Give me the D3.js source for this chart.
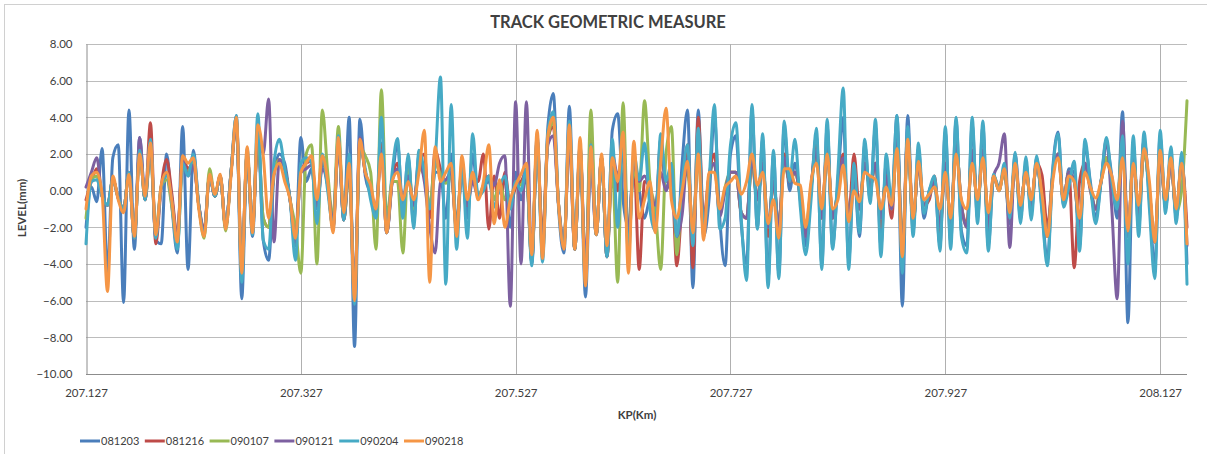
<!DOCTYPE html>
<html>
<head>
<meta charset="utf-8">
<script src="https://cdn.jsdelivr.net/npm/d3@7"></script>
<style>
  body { margin: 0; background: #fff; }
  svg { display: block; }
  text { font-family: Lato, "Open Sans", "Liberation Sans", sans-serif; fill: #404040; }
</style>
</head>
<body>
<svg id="chart" width="1207" height="454"></svg>
<script>
// Track level survey: one reading every 5 m from KP 207.127
const kpStart = 207.127;
const kpStep = 0.005;
const xTickValues = [207.127, 207.327, 207.527, 207.727, 207.927, 208.127];
const yTickValues = [-10, -8, -6, -4, -2, 0, 2, 4, 6, 8];
const seriesNames = ["081203", "081216", "090107", "090121", "090204", "090218"];
const seriesColors = ["#4A7EBB", "#BE4B48", "#98B954", "#7D60A0", "#46AAC5", "#F59646"];

const level081203 = [
  -2.0, 0.2, -0.6, 2.3, -4.5, 1.8, 2.5, -6.1, 4.4, -3.2,
  2.9, -0.5, 2.2, -2.7, -2.9, 2.0, -0.9, -3.4, 3.5, -4.3,
  2.2, -0.8, -2.3, 0.8, -0.3, 0.8, -2.0, 1.0, 4.1, -5.9,
  2.0, -2.5, 3.0, -2.7, -3.8, 0.8, 2.0, 1.5, -0.5, -3.0,
  2.9, 0.5, 1.2, -1.0, 1.5, 0.5, -2.1, 2.5, -1.6, 4.0,
  -8.5, 3.9, 0.8, -0.2, -1.2, 2.6, -2.3, 0.5, 2.6, -1.0,
  1.8, -1.8, 2.0, 0.8, -1.2, 1.0, 1.0, -1.5, 2.0, -2.0,
  1.2, -1.5, 2.0, -0.3, 0.2, 0.5, -0.5, 0.0, 0.5, -2.0,
  1.0, -0.5, 0.8, -3.9, 3.0, -3.5, 3.5, 5.3, -1.0, -3.4,
  4.6, -3.2, 2.4, -5.8, 1.8, -2.4, 1.8, -3.6, 3.3, 4.2,
  -0.5, -2.0, 1.5, 0.0, -1.5, -0.5, -1.5, 2.8, 0.0, 1.0,
  -3.0, 1.5, 4.4, -5.3, 4.4, -2.5, -0.5, 4.0, -1.5, -4.1,
  2.0, 3.0, -1.8, -4.0, 4.4, -2.0, 2.8, -4.8, 2.0, -4.5,
  3.5, 0.0, 1.5, -0.5, -3.0, 0.0, 3.0, -4.0, 3.5, -3.0,
  0.5, 4.0, -3.8, 1.0, -2.5, 2.5, -0.5, 3.5, -3.0, 1.5,
  -1.0, 4.1, -6.3, 4.1, -2.2, 2.3, -1.5, 0.0, 0.5, -3.0,
  3.2, -2.8, 3.8, -2.2, -3.0, 3.6, -1.5, 3.5, -3.0, 0.8,
  0.2, 1.0, -1.8, 1.8, -1.5, 1.5, -1.2, 1.8, -1.0, -3.8,
  1.2, 3.2, -0.8, 1.2, 1.0, -3.0, 2.5, 0.5, -1.5, 0.5,
  2.5, 0.8, -1.5, 4.3, -7.2, 2.5, -2.0, 2.8, -0.5, -4.2,
  3.0, -1.0, 2.0, -1.5, 1.8, -4.0
];

const level081216 = [
  -0.5, 0.5, 1.2, -0.3, -0.8, 0.6, -0.4, -1.0, 1.0, -2.6,
  2.2, -0.5, 3.7, -2.9, 0.2, 1.7, -0.2, -2.5, 1.8, 1.2,
  1.5, -0.8, -2.1, 0.8, -0.3, 0.8, -2.0, 1.0, 3.8, -4.0,
  2.0, -2.0, 3.0, -1.5, -2.0, 1.0, 1.7, 1.2, -0.5, -2.5,
  1.0, 1.5, 1.6, -0.8, 1.7, 0.3, -2.0, 2.7, -1.6, 1.2,
  -5.8, 2.6, 1.0, 0.0, -1.0, 2.5, -2.3, 0.5, 1.5, -0.8,
  0.8, -0.8, 1.5, 2.0, -1.5, 2.2, 1.2, 0.5, 0.8, -1.8,
  1.0, -0.8, 0.9, 0.5, 2.0, -2.1, 0.8, -1.5, 1.0, -0.8,
  0.2, 0.5, 1.0, -3.8, 2.5, -2.5, 2.8, 3.5, -0.8, -2.8,
  3.0, -3.2, 2.2, -4.5, 3.0, -2.4, 1.8, -3.6, 1.5, 0.0,
  2.5, -3.0, 1.8, -4.3, 0.5, 0.2, -1.8, 2.5, 0.5, 1.0,
  -4.1, -0.5, 2.5, -4.2, 4.0, -1.5, 0.8, 2.0, -1.0, 0.0,
  1.0, 1.0, -1.2, -1.5, 1.5, -0.5, 1.5, -2.5, 0.5, -2.0,
  2.0, 0.5, 1.0, -0.3, -2.4, 0.2, 2.5, -1.5, 2.5, -1.5,
  0.0, 2.0, -1.5, 2.0, -1.0, 1.5, 0.2, 1.5, -2.0, 0.8,
  -1.5, 2.8, -3.0, 3.0, -1.8, 1.5, -0.8, -0.5, 0.8, -2.3,
  1.5, -1.8, 2.5, -0.8, -1.8, 2.2, -0.8, 2.2, -1.8, 0.8,
  0.0, 1.2, -1.5, 1.5, -1.0, 1.2, -0.8, 1.5, 0.85, -2.0,
  0.8, 2.0, -0.5, 1.0, -4.2, 0.5, 1.5, 0.0, -1.0, 0.5,
  1.8, 0.5, -0.8, 2.5, -2.5, 1.8, -1.2, 2.2, 0.0, -2.8,
  2.0, -0.8, 1.5, -1.2, 1.5, -2.0
];

const level090107 = [
  -1.5, 0.6, 0.8, -0.3, -0.8, 0.6, -0.4, -1.0, 1.0, -2.6,
  2.2, -0.5, 2.0, -2.2, 0.2, 0.6, -0.9, -3.0, 1.4, 1.0,
  1.6, -0.8, -2.6, 1.2, -0.3, 0.8, -2.2, 1.0, 3.5, -4.2,
  2.0, -2.0, 3.0, -1.5, -2.0, 1.0, 1.7, 1.2, -0.5, -2.0,
  -4.5, 2.0, 2.5, -4.0, 4.4, 1.0, -1.5, 3.5, -1.6, 1.0,
  -5.6, 2.4, 1.9, 1.0, -3.2, 5.5, -1.5, 0.5, 0.5, -3.4,
  1.5, -1.0, 1.2, 0.8, -0.8, 1.5, 0.9, 0.4, 0.8, -2.0,
  1.4, -0.6, 0.8, -0.3, 0.3, 0.8, -0.5, 0.5, -0.5, -0.5,
  0.5, 0.3, 1.0, -3.8, 2.6, -3.0, 2.8, 3.8, -0.8, -2.8,
  3.3, -3.2, 2.2, -4.8, 4.4, -2.4, 1.8, -3.6, 1.2, -5.0,
  4.8, -3.0, 1.2, 0.0, 4.9, 0.5, -1.0, -4.3, 2.0, 3.5,
  -3.5, 0.0, 1.0, -2.0, 1.8, -2.0, 0.6, 1.5, -1.3, 0.2,
  1.0, 1.0, -1.2, -1.5, 1.5, -0.5, 1.5, -2.0, 0.5, -2.0,
  1.5, 0.5, 1.0, -0.3, -2.0, 0.2, 2.0, -1.5, 2.2, -1.5,
  0.0, 1.5, -1.5, 0.5, -1.0, 1.5, 0.2, 1.5, -1.5, 0.8,
  -1.0, 2.5, -3.0, 2.5, -1.8, 1.5, -0.8, -0.3, 0.5, -2.0,
  1.5, -1.8, 2.5, -0.8, -2.0, 2.2, -0.8, 2.2, -2.0, 0.8,
  0.0, 1.2, -1.5, 1.5, -1.0, 1.2, -0.8, 1.5, -0.5, -2.5,
  0.8, 2.0, -0.5, 1.0, 0.5, -2.0, 1.5, 0.2, -1.0, 0.5,
  1.8, 0.5, -0.8, 3.0, -2.5, 1.8, -1.2, 2.2, 0.0, -2.8,
  2.0, -0.8, 1.5, -1.2, 0.0, 4.9
];

const level090121 = [
  0.2, 1.0, 1.8, -0.3, -0.8, 0.6, -0.4, -1.0, 1.0, -2.6,
  2.9, -0.5, 2.4, -2.5, 0.2, 0.9, -0.5, -2.6, 1.7, 0.8,
  1.4, -0.8, -2.2, 0.8, -0.3, 0.8, -2.0, 1.0, 3.6, -4.4,
  2.0, -2.0, 3.0, 2.0, 5.0, -2.8, 1.7, 1.2, -0.5, -2.8,
  1.0, 1.2, 1.4, -0.8, 1.2, 0.3, -1.8, 2.6, -1.6, 1.3,
  -5.5, 2.9, 1.0, 0.0, -1.0, 2.2, -2.3, 0.5, 1.2, -0.6,
  0.8, -0.8, 1.6, 0.5, -2.0, -3.4, 0.5, 0.6, 1.0, -2.2,
  1.2, -0.8, 0.5, -0.3, 0.1, 0.8, 0.3, 1.5, 1.9, -6.3,
  4.85, -4.0, 4.85, -4.0, 2.8, -3.2, 2.5, 3.0, -0.8, -2.8,
  2.8, -3.2, 2.2, -4.0, 1.5, -2.4, 1.8, -3.6, 2.0, 0.8,
  2.0, -2.5, 1.5, 0.5, 0.8, 0.0, -0.8, 1.0, 0.0, 0.8,
  -2.5, -1.3, 1.8, -2.5, 2.5, -2.2, 0.8, 1.5, -1.4, 0.0,
  1.0, 1.0, -1.2, -1.5, 1.8, -0.5, 1.5, -2.0, 0.5, -2.0,
  1.8, 0.5, 1.0, -0.3, -2.5, 0.2, 2.2, -1.5, 2.3, -1.5,
  0.0, 1.8, -1.5, 0.5, -1.0, 1.5, 0.2, 1.5, -1.5, 0.8,
  -1.0, 3.5, -3.5, 3.0, -1.8, 1.5, -0.8, -0.3, 0.5, -2.0,
  1.5, -1.8, 2.5, -0.8, -2.0, 2.2, -0.8, 2.2, -2.0, 0.8,
  1.5, 3.1, -3.1, 2.0, -1.0, 1.2, -0.8, 1.5, -0.5, -2.5,
  0.8, 2.0, -0.5, 1.0, 0.5, -2.0, 1.5, 0.2, -1.0, 0.5,
  2.8, -1.0, -5.9, 3.8, -2.5, 1.8, -1.2, 2.8, 0.0, -2.8,
  2.0, -0.8, 1.5, -1.2, 1.5, -3.0
];

const level090204 = [
  -2.9, 0.5, 0.6, -0.3, -0.8, 0.6, -0.4, -1.0, 1.0, -2.6,
  2.2, -0.5, 2.8, -2.6, 0.2, 0.8, -0.7, -3.2, 1.5, 0.8,
  2.0, -0.8, -2.4, 0.8, -0.3, 0.8, -2.0, 1.0, 4.1, -5.0,
  2.3, -2.4, 4.2, -2.7, -3.2, 1.5, 2.8, 1.2, -0.5, -3.8,
  1.5, 1.8, 1.5, -1.8, 2.0, 0.0, -2.0, 3.0, -1.6, 2.0,
  -6.2, 2.5, 1.2, -0.5, -1.5, 4.0, -2.3, 1.0, 2.85, -1.5,
  2.0, -2.05, 2.2, 1.0, -1.0, 1.5, 6.2, -5.1, 4.7, -3.2,
  1.5, -2.6, 3.1, -0.3, 0.0, 0.8, -0.9, 0.2, 0.8, -1.0,
  0.5, 0.0, 1.2, -4.1, 2.8, -3.9, 3.2, 4.3, -0.8, -3.0,
  3.8, -3.2, 2.5, -5.0, 2.5, -2.4, 1.8, -3.6, 2.8, -2.0,
  3.0, -3.5, 2.0, 0.6, 2.6, -1.0, -2.2, 3.1, 0.5, 1.5,
  -2.5, 0.5, 2.5, -3.0, 3.4, -2.0, 0.5, 4.7, -2.1, -1.5,
  2.5, 3.7, -1.5, -4.9, 4.7, -2.1, 3.1, -5.3, 2.2, -4.8,
  3.8, 0.5, 2.8, -0.9, -3.5, -0.5, 3.4, -4.3, 3.9, -3.2,
  1.0, 5.6, -4.3, 1.5, -2.3, 2.8, -0.7, 3.9, -3.6, 2.0,
  -0.7, 4.1, -4.5, 3.5, -2.5, 2.6, -1.25, 0.0, 0.8, -3.3,
  3.5, -3.2, 4.0, -2.5, -3.4, 4.0, -1.8, 3.8, -3.3, 0.9,
  0.0, 1.5, -1.5, 2.1, -1.8, 1.85, -1.6, 1.9, -1.2, -4.1,
  1.0, 3.1, -0.9, 0.2, 1.6, -3.3, 2.8, 0.3, -1.8, 0.5,
  2.9, 0.5, -1.0, 3.0, -4.0, 3.0, -2.5, 3.2, -1.0, -4.8,
  3.3, -1.25, 2.4, -1.8, 2.1, -5.1
];

const level090218 = [
  -1.0, 0.8, 1.0, -0.2, -5.5, 0.8, -0.5, -1.2, 0.9, -2.5,
  2.0, -0.3, 2.6, -2.4, 0.3, 1.0, -0.6, -2.8, 1.9, 1.5,
  1.8, -1.0, -2.5, 0.9, -0.2, 0.9, -2.1, 0.8, 4.0, -4.5,
  2.4, -2.3, 3.6, 1.9, -1.5, 0.9, 1.5, 0.5, -0.5, -2.6,
  1.0, 1.5, 1.9, -0.5, 1.9, 0.5, -2.3, 2.9, -1.2, 1.5,
  -6.0, 2.8, 1.0, 0.3, -1.0, 2.0, -2.3, 0.5, 1.0, -0.5,
  0.5, -0.5, 1.0, 3.3, -5.0, 2.4, 0.5, 1.0, 1.5, -2.5,
  1.9, -0.5, 1.0, -0.5, 0.5, 2.5, -1.8, 0.6, -2.0, -0.5,
  0.3, 0.9, 1.5, -3.5, 3.3, -3.7, 3.0, 4.0, -0.8, -3.2,
  3.6, -3.2, 2.9, -5.2, 2.4, -2.4, 2.0, -3.0, 1.8, 0.5,
  3.2, -4.5, 2.7, -1.5, -0.5, 0.5, -2.3, 1.5, 4.5, -0.5,
  -1.5, 0.0, 1.6, -2.3, 2.0, -2.7, 1.0, 1.0, -1.0, 0.2,
  0.5, 0.8, -0.2, 0.5, 2.0, 0.3, 1.0, -1.8, -0.5, -2.6,
  1.2, 1.2, 0.4, 0.3, -2.0, 0.5, 1.5, -1.0, 2.0, -1.0,
  -0.5, 1.4, -1.7, 0.0, -0.6, 1.0, 0.8, 0.6, -1.0, 0.2,
  -0.8, 2.3, -3.6, 2.8, -1.5, 1.6, -0.5, -0.2, 0.2, -1.0,
  1.0, -1.5, 2.0, -0.5, -1.0, 1.5, -0.5, 1.8, -1.2, 0.8,
  0.0, 1.2, -1.2, 1.5, -0.8, 1.0, -0.5, 1.5, -0.2, -2.5,
  0.5, 1.8, -0.5, 0.8, 0.5, -1.5, 1.0, 0.2, -0.4, 0.5,
  1.5, 0.8, -0.5, 1.8, -2.2, 1.5, -0.8, 2.3, 0.5, -2.8,
  2.2, -0.5, 1.8, -1.0, 1.5, -2.9
];

const seriesValues = [level081203, level081216, level090107, level090121, level090204, level090218];
const kp = d3.range(level081203.length).map(i => kpStart + i * kpStep);

const svg = d3.select("#chart");
const plot = { left: 86, right: 1187, top: 44, bottom: 374 };

// Outer chart frame (left and top edges fall inside the page)
svg.append("rect")
  .attr("x", 4.5).attr("y", 4.5)
  .attr("width", 1220).attr("height", 470)
  .attr("fill", "none").attr("stroke", "#d0d0d0").attr("stroke-width", 1);

const x = d3.scaleLinear().domain([207.127, 208.152]).range([plot.left, plot.right]);
const y = d3.scaleLinear().domain([-10, 8]).range([plot.bottom, plot.top]);

// Horizontal gridlines
svg.append("g")
  .selectAll("line")
  .data(yTickValues.filter(v => v !== -10))
  .join("line")
  .attr("x1", plot.left).attr("x2", plot.right)
  .attr("y1", d => Math.round(y(d)) + 0.5).attr("y2", d => Math.round(y(d)) + 0.5)
  .attr("stroke", "#bcbcbc").attr("stroke-width", 1);

// Vertical gridlines
svg.append("g")
  .selectAll("line")
  .data(xTickValues.slice(1))
  .join("line")
  .attr("x1", d => Math.round(x(d)) + 0.5).attr("x2", d => Math.round(x(d)) + 0.5)
  .attr("y1", plot.top).attr("y2", plot.bottom)
  .attr("stroke", "#b0b0b0").attr("stroke-width", 1);

// Axes
const yAxis = d3.axisLeft(y).tickValues(yTickValues).tickFormat(d3.format(".2f")).tickSize(0).tickPadding(14);
const gy = svg.append("g").attr("transform", `translate(${plot.left + 0.5},0)`).call(yAxis);
gy.select(".domain").attr("stroke", "#8c8c8c");
gy.selectAll("text").style("font-size", "11.5px").attr("fill", "#404040");

const xAxis = d3.axisBottom(x).tickValues(xTickValues).tickFormat(d3.format(".3f")).tickSize(0).tickPadding(14);
const gx = svg.append("g").attr("transform", `translate(0,${plot.bottom + 0.5})`).call(xAxis);
gx.select(".domain").attr("stroke", "#8c8c8c").attr("d", `M${plot.left},0H${plot.right}`);
gx.selectAll("text").style("font-size", "11.5px").attr("fill", "#404040");

// Series lines
const line = d3.line()
  .x((d, i) => x(kp[i]))
  .y(d => y(d))
  .curve(d3.curveMonotoneX);

svg.append("g")
  .selectAll("path")
  .data(seriesValues)
  .join("path")
  .attr("d", d => line(d))
  .attr("fill", "none")
  .attr("stroke", (d, i) => seriesColors[i])
  .attr("stroke-width", 3)
  .attr("stroke-linejoin", "round")
  .attr("stroke-linecap", "round");

// Titles
svg.append("text")
  .attr("x", 608).attr("y", 28)
  .attr("text-anchor", "middle")
  .style("font-size", "16.5px").style("font-weight", "bold")
  .attr("fill", "#000")
  .text("TRACK GEOMETRIC MEASURE");

svg.append("text")
  .attr("x", 637).attr("y", 419)
  .attr("text-anchor", "middle")
  .style("font-size", "11.5px").style("font-weight", "bold")
  .attr("fill", "#000")
  .text("KP(Km)");

svg.append("text")
  .attr("transform", "translate(26,208) rotate(-90)")
  .attr("text-anchor", "middle")
  .style("font-size", "11.5px").style("font-weight", "bold")
  .attr("fill", "#000")
  .text("LEVEL(mm)");

// Legend
const legend = svg.append("g").attr("transform", "translate(80,441)");
const item = legend.selectAll("g")
  .data(seriesNames)
  .join("g")
  .attr("transform", (d, i) => `translate(${i * 64.8},0)`);
item.append("line")
  .attr("x1", 0).attr("x2", 20).attr("y1", 0).attr("y2", 0)
  .attr("stroke", (d, i) => seriesColors[i]).attr("stroke-width", 3);
item.append("text")
  .attr("x", 21).attr("y", 4)
  .style("font-size", "11px")
  .attr("fill", "#404040")
  .text(d => d);
</script>
</body>
</html>
